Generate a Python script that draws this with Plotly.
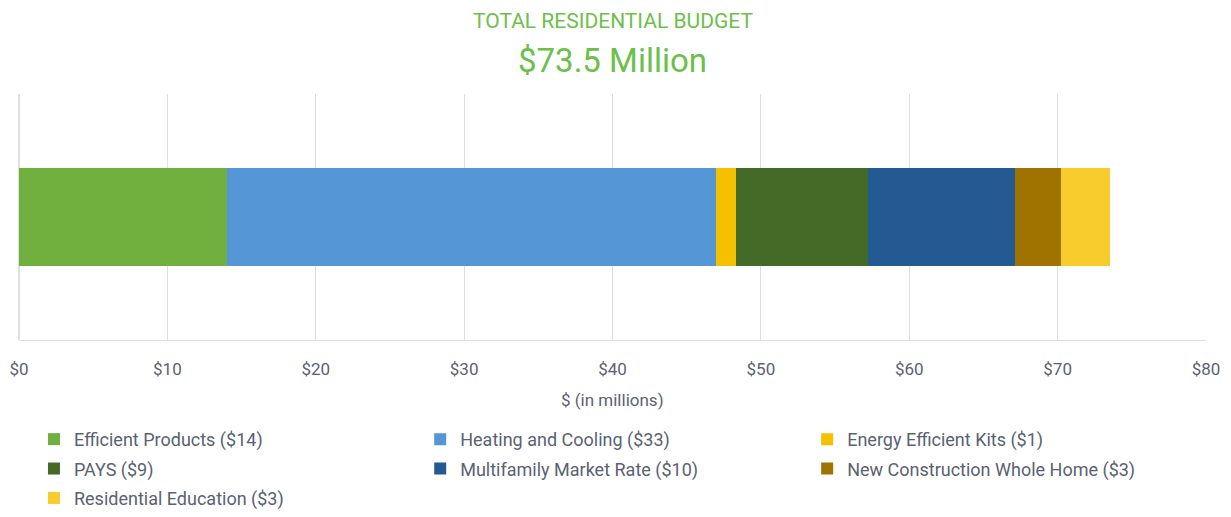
import plotly.graph_objects as go

category = ["Residential"]
programs = ["Efficient Products ($14)", "Heating and Cooling ($33)", "Energy Efficient Kits ($1)",
            "PAYS ($9)", "Multifamily Market Rate ($10)", "New Construction Whole Home ($3)",
            "Residential Education ($3)"]
budget = [14.0, 33.0, 1.3, 8.9, 9.9, 3.1, 3.3]
colors = ["#6fb03f", "#5597d6", "#f5c000", "#446a28", "#245a92", "#a07200", "#f8cc2c"]
tick_vals = [0, 10, 20, 30, 40, 50, 60, 70, 80]
tick_text = ["$0", "$10", "$20", "$30", "$40", "$50", "$60", "$70", "$80"]

font = "Roboto, sans-serif"
# legend entries fill three columns row by row
legend_ids = ["legend", "legend2", "legend3"]

fig = go.Figure()
for i, (name, val, col) in enumerate(zip(programs, budget, colors)):
    fig.add_trace(go.Bar(x=[val], y=category, name=name, orientation="h",
                         marker=dict(color=col, line=dict(width=0)), width=0.4,
                         legend=legend_ids[i % 3], legendgroup=f"g{i}"))

leg_common = dict(orientation="v", y=-0.329, yanchor="top", xanchor="left",
                  font=dict(size=18, color="#5a6272"), tracegroupgap=3,
                  bgcolor="rgba(0,0,0,0)", traceorder="grouped")

fig.update_layout(
    barmode="stack",
    width=1231, height=517,
    margin=dict(l=11, r=33, t=86, b=185, autoexpand=False),
    plot_bgcolor="white", paper_bgcolor="white",
    font=dict(family=font, color="#5a6272"),
    showlegend=True,
    legend=dict(x=0.0126, **leg_common),
    legend2=dict(x=0.338, **leg_common),
    legend3=dict(x=0.664, **leg_common),
    xaxis=dict(range=[0, 80], tickvals=tick_vals, ticktext=tick_text, automargin=False,
               showgrid=True, gridcolor="#dcdfe3", gridwidth=1,
               showline=True, linecolor="#dcdfe3", zeroline=True, zerolinecolor="#dcdfe3",
               tickfont=dict(size=17, color="#5a6272"), ticks="", ticklabelstandoff=14),
    yaxis=dict(showticklabels=False, showgrid=False, zeroline=False, range=[-0.5, 0.5],
               automargin=False),
)
fig.add_annotation(text="TOTAL RESIDENTIAL BUDGET", x=0.5, y=1 + (93 - 20) / 246,
                   xref="paper", yref="paper", showarrow=False, yanchor="middle",
                   font=dict(size=21, color="#6cc04a", family=font))
fig.add_annotation(text="$73.5 Million", x=0.5, y=1 + (94 - 60) / 246, xref="paper", yref="paper",
                   showarrow=False, font=dict(size=33, color="#6cc04a", family=font), yanchor="middle")
fig.add_annotation(text="$ (in millions)", x=0.5, y=-(400 - 340) / 246, xref="paper", yref="paper",
                   showarrow=False, yanchor="middle", font=dict(size=17, color="#5a6272", family=font))

fig.write_html("out.html")
